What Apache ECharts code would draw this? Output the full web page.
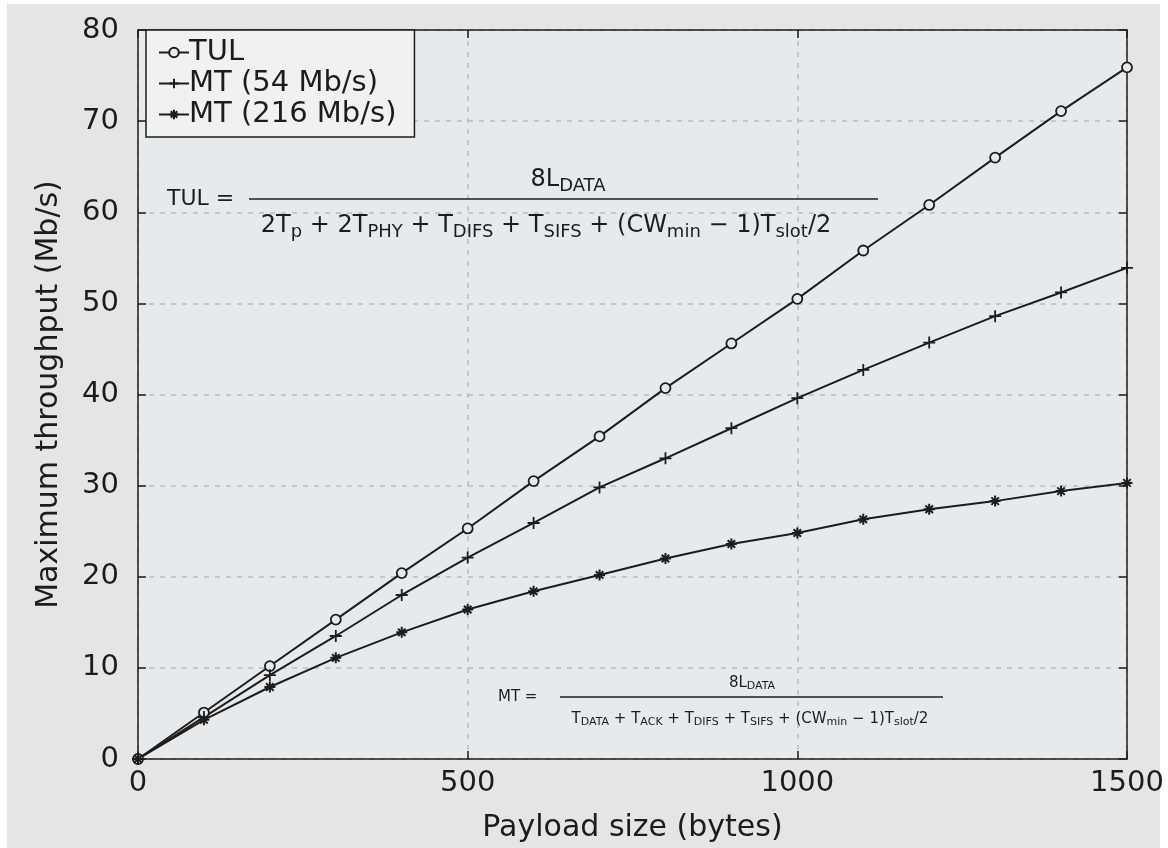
<!DOCTYPE html>
<html>
<head>
<meta charset="utf-8">
<script src="https://cdn.jsdelivr.net/npm/echarts@6/dist/echarts.min.js"></script>
<style>
  html, body { margin: 0; padding: 0; background: #fff; }
  #chart { width: 1168px; height: 848px; }
</style>
</head>
<body>
<div id="chart"></div>
<script>
var payload = [0, 100, 200, 300, 400, 500, 600, 700, 800, 900, 1000, 1100, 1200, 1300, 1400, 1500];
var tul = [0, 5.1, 10.2, 15.3, 20.4, 25.3, 30.5, 35.4, 40.7, 45.6, 50.5, 55.8, 60.8, 66.0, 71.1, 75.9];
var mt54 = [0, 4.6, 9.2, 13.5, 18.0, 22.1, 25.9, 29.8, 33.0, 36.3, 39.6, 42.7, 45.7, 48.6, 51.2, 53.9];
var mt216 = [0, 4.3, 7.9, 11.1, 13.9, 16.4, 18.4, 20.2, 22.0, 23.6, 24.8, 26.3, 27.4, 28.3, 29.4, 30.3];
var seriesNames = ["TUL", "MT (54 Mb/s)", "MT (216 Mb/s)"];

var font = "DejaVu Sans";
var ink = "#1c1c1c";

function pairs(ys) {
    return ys.map(function (v, i) { return [payload[i], v]; });
}
function plain(v) { return String(v); }

var plusPath = "path://M5,0V10M0,5H10";
var starPath = "path://M5,0V10M0,5H10M1.6,1.6L8.4,8.4M8.4,1.6L1.6,8.4";

var subBig = { fontSize: 18, fontFamily: font, color: ink, padding: [13, 0, 0, 0] };
var subSmall = { fontSize: 11, fontFamily: font, color: ink, padding: [7, 0, 0, 0] };

var frameLine = { onZero: false, lineStyle: { color: ink, width: 1.5 } };
var frameTick = { show: true, inside: true, length: 8, lineStyle: { color: ink, width: 1.5 } };
var gridDash = { show: true, lineStyle: { color: "#b9bbbd", type: [5, 6], width: 1.5 } };

var chart = echarts.init(document.getElementById("chart"));
chart.setOption({
    backgroundColor: "#ffffff",
    animation: false,
    textStyle: { fontFamily: font },
    grid: {
        left: 138, right: 41, top: 30, bottom: 87,
        show: true, backgroundColor: "#e7eaed", borderWidth: 0
    },
    graphic: [
        { type: "rect", z: -10, shape: { x: 7, y: 4, width: 1153, height: 844 }, style: { fill: "#e5e5e5" } },
        // TUL formula
        { type: "text", z: 10, style: { text: "TUL =", x: 167, y: 199, verticalAlign: "middle", fontSize: 22, fontFamily: font, fill: ink } },
        { type: "line", z: 10, shape: { x1: 249, y1: 199, x2: 878, y2: 199 }, style: { stroke: ink, lineWidth: 1.5 } },
        { type: "text", z: 10, style: { text: "8L{s|DATA}", rich: { s: subBig }, x: 568, y: 180, align: "center", verticalAlign: "middle", fontSize: 24, fontFamily: font, fill: ink } },
        { type: "text", z: 10, style: {
            text: "2T{s|p} + 2T{s|PHY} + T{s|DIFS} + T{s|SIFS} + (CW{s|min} \u2212 1)T{s|slot}/2",
            rich: { s: subBig }, x: 546, y: 226, align: "center", verticalAlign: "middle", fontSize: 24, fontFamily: font, fill: ink } },
        // MT formula
        { type: "text", z: 10, style: { text: "MT =", x: 498, y: 697, verticalAlign: "middle", fontSize: 15, fontFamily: font, fill: ink } },
        { type: "line", z: 10, shape: { x1: 560, y1: 697, x2: 943, y2: 697 }, style: { stroke: ink, lineWidth: 1.5 } },
        { type: "text", z: 10, style: { text: "8L{s|DATA}", rich: { s: subSmall }, x: 752, y: 683, align: "center", verticalAlign: "middle", fontSize: 15, fontFamily: font, fill: ink } },
        { type: "text", z: 10, style: {
            text: "T{s|DATA} + T{s|ACK} + T{s|DIFS} + T{s|SIFS} + (CW{s|min} \u2212 1)T{s|slot}/2",
            rich: { s: subSmall }, x: 750, y: 719, align: "center", verticalAlign: "middle", fontSize: 15, fontFamily: font, fill: ink } }
    ],
    legend: {
        data: seriesNames,
        orient: "vertical",
        left: 146, top: 30,
        padding: [8, 18, 8, 12],
        itemGap: 2,
        itemWidth: 30, itemHeight: 12,
        backgroundColor: "#eff1f3",
        borderColor: ink, borderWidth: 1.5,
        textStyle: { fontSize: 29, color: ink, fontFamily: font, padding: [0, 0, 0, -5] }
    },
    xAxis: [
        {
            type: "value", min: 0, max: 1500, interval: 500,
            name: "Payload size (bytes)", nameLocation: "middle", nameGap: 54,
            nameTextStyle: { fontSize: 30, color: ink },
            axisLine: frameLine,
            axisTick: frameTick,
            axisLabel: { fontSize: 29, color: ink, margin: 10, formatter: plain },
            splitLine: gridDash
        },
        {
            type: "value", min: 0, max: 1500, interval: 500, position: "top",
            axisLine: frameLine,
            axisTick: frameTick,
            axisLabel: { show: false }, splitLine: { show: false }
        }
    ],
    yAxis: [
        {
            type: "value", min: 0, max: 80, interval: 10,
            name: "Maximum throughput (Mb/s)", nameLocation: "middle", nameGap: 74,
            nameTextStyle: { fontSize: 30, color: ink },
            axisLine: frameLine,
            axisTick: frameTick,
            axisLabel: { fontSize: 29, color: ink, margin: 19, formatter: plain },
            splitLine: gridDash
        },
        {
            type: "value", min: 0, max: 80, interval: 10, position: "right",
            axisLine: frameLine,
            axisTick: frameTick,
            axisLabel: { show: false }, splitLine: { show: false }
        }
    ],
    series: [
        {
            name: seriesNames[0], type: "line", data: pairs(tul),
            symbol: "circle", symbolSize: 10,
            itemStyle: { color: "#e7eaed", borderColor: ink, borderWidth: 1.8 },
            lineStyle: { color: ink, width: 2 }
        },
        {
            name: seriesNames[1], type: "line", data: pairs(mt54),
            symbol: plusPath, symbolSize: 12,
            itemStyle: { color: ink, borderColor: ink, borderWidth: 1.8 },
            lineStyle: { color: ink, width: 2 }
        },
        {
            name: seriesNames[2], type: "line", data: pairs(mt216),
            symbol: starPath, symbolSize: 11,
            itemStyle: { color: ink, borderColor: ink, borderWidth: 2 },
            lineStyle: { color: ink, width: 2 }
        }
    ]
});
</script>
</body>
</html>
